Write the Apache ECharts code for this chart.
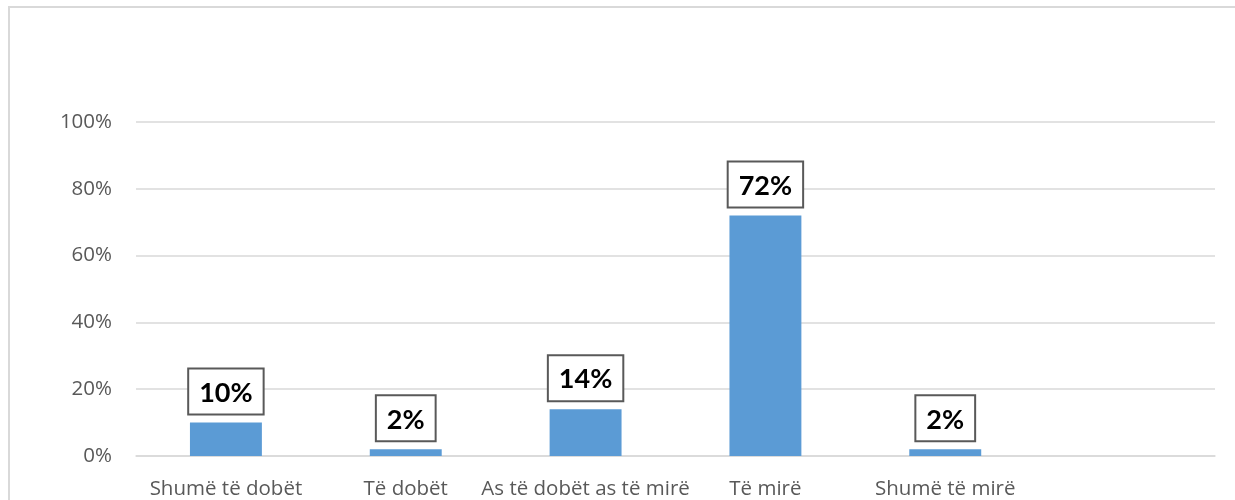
<!DOCTYPE html>
<html>
<head>
<meta charset="utf-8">
<script src="https://cdn.jsdelivr.net/npm/echarts@6/dist/echarts.min.js"></script>
<style>html,body{margin:0;padding:0;background:#fff}#c{width:1235px;height:500px}</style>
</head>
<body>
<div id="c"></div>
<script>
const categories = ['Shumë të dobët', 'Të dobët', 'As të dobët as të mirë', 'Të mirë', 'Shumë të mirë', ''];
const values = [10, 2, 14, 72, 2, null];
const yTicks = [0, 20, 40, 60, 80, 100];

const axisFont = '"Open Sans", Lato, sans-serif';
const chart = echarts.init(document.getElementById('c'), null, {renderer: 'canvas'});
chart.setOption({
  animation: false,
  backgroundColor: '#fff',
  textStyle: {fontFamily: axisFont},
  graphic: [{
    type: 'rect', silent: true, z: -10,
    shape: {x: 9, y: 7, width: 1400, height: 700},
    style: {fill: 'none', stroke: '#d9d9d9', lineWidth: 2}
  }],
  grid: {left: 136, right: 20, top: 122, bottom: 44, containLabel: false},
  xAxis: {
    type: 'category', data: categories,
    axisLine: {show: true, lineStyle: {color: '#d9d9d9', width: 1.5}},
    axisTick: {show: false},
    axisLabel: {color: '#595959', fontSize: 20.5, margin: 23, interval: 0, fontFamily: axisFont}
  },
  yAxis: {
    type: 'value', min: yTicks[0], max: yTicks[yTicks.length - 1], interval: 20,
    axisLine: {show: false}, axisTick: {show: false},
    axisLabel: {color: '#595959', fontSize: 20.5, margin: 24, formatter: v => v + '%', fontFamily: axisFont},
    splitLine: {lineStyle: {color: '#d9d9d9', width: 1.5}}
  },
  series: [{
    type: 'bar', data: values, barWidth: '40%',
    itemStyle: {color: '#5B9BD5'},
    label: {
      show: true, position: 'top', distance: 9,
      formatter: p => p.value + '%',
      color: '#000', fontWeight: 'bold', fontSize: 27,
      fontFamily: 'Lato, "Open Sans", sans-serif',
      backgroundColor: '#fff', borderColor: '#595959', borderWidth: 2,
      padding: [10, 10, 7, 10]
    }
  }]
});
</script>
</body>
</html>
